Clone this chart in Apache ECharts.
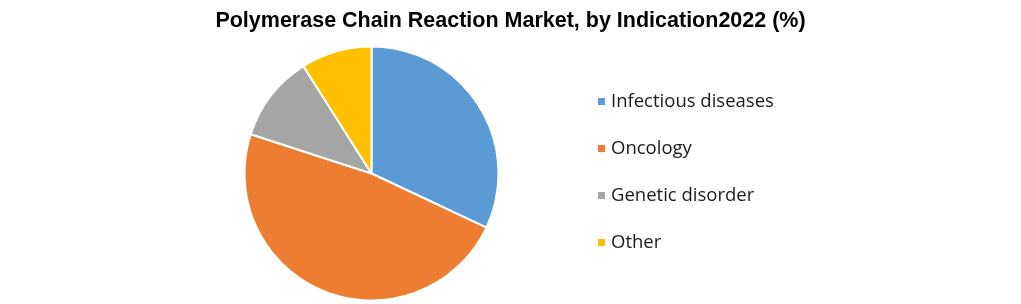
<!DOCTYPE html>
<html><head><meta charset="utf-8">
<script src="https://cdn.jsdelivr.net/npm/echarts@6/dist/echarts.min.js"></script>
<style>html,body{margin:0;padding:0;background:#fff}#c{width:1021px;height:304px}</style>
</head><body><div id="c"></div>
<script>
const titleText = 'Polymerase Chain Reaction Market, by Indication2022 (%)';
const categories = ['Infectious diseases', 'Oncology', 'Genetic disorder', 'Other'];
const values = [32, 48, 11, 9];
const colors = ['#5B9BD5', '#ED7D31', '#A5A5A5', '#FFC000'];

const chart = echarts.init(document.getElementById('c'), null, {renderer: 'canvas'});
chart.setOption({
  animation: false,
  title: {
    text: titleText, left: 'center', top: 5,
    textStyle: {fontFamily: 'Liberation Sans, sans-serif', fontWeight: 'bold', fontSize: 21.5, color: '#000'}
  },
  legend: {
    orient: 'vertical', left: 591, top: 87, itemGap: 28,
    itemWidth: 9, itemHeight: 9, icon: 'rect',
    textStyle: {fontFamily: 'Open Sans, sans-serif', fontSize: 18.5, color: '#1a1a1a', lineHeight: 19},
    data: categories
  },
  series: [{
    type: 'pie', center: [371.5, 173.5], radius: [0, 127], startAngle: 90, clockwise: true,
    label: {show: false}, labelLine: {show: false},
    itemStyle: {borderColor: '#fff', borderWidth: 2},
    emphasis: {disabled: true},
    data: categories.map((n, i) => ({name: n, value: values[i], itemStyle: {color: colors[i]}}))
  }]
});
</script></body></html>
